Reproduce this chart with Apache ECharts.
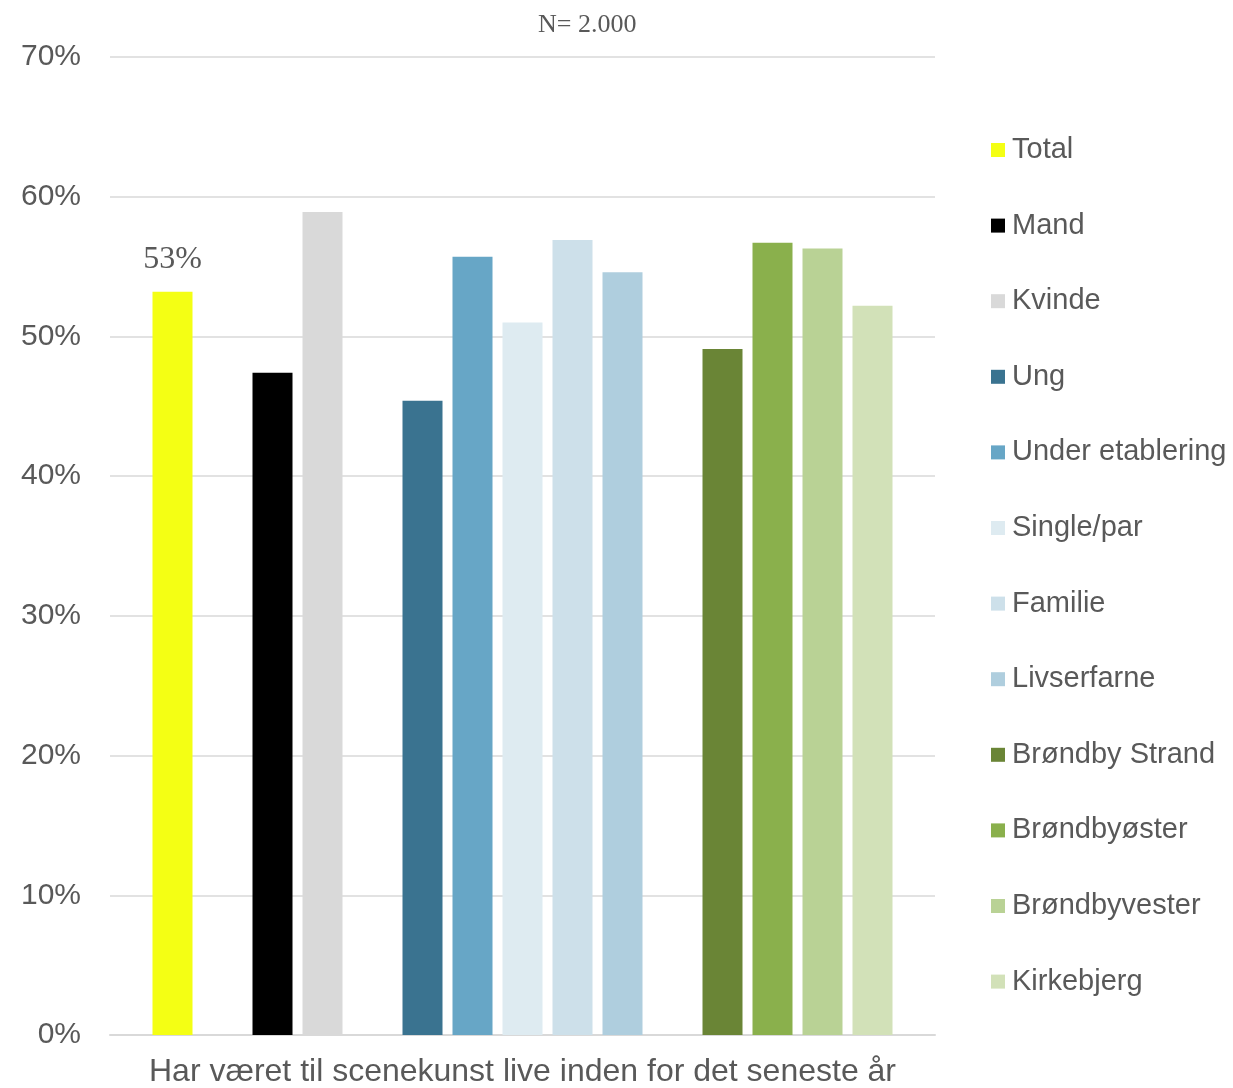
<!DOCTYPE html>
<html lang="da">
<head>
    <meta charset="UTF-8">
    <script type="text/javascript" src="https://cdn.jsdelivr.net/npm/echarts@6.0.0/dist/echarts.min.js"></script>
    <style>
        html, body {
            margin: 0;
            overflow: hidden;
            background: #fff;
        }
        #viewport {
            position: absolute;
            left: 0px;
            top: 0px;
            width: 1233px;
            height: 1088px;
        }
    </style>
</head>
<body>
<div id="viewport"></div>
<script>
    var category = ['Har været til scenekunst live inden for det seneste år'];

    // null entries are empty slots between the groups
    var groups = ['Total', null, 'Mand', 'Kvinde', null,
        'Ung', 'Under etablering', 'Single/par', 'Familie', 'Livserfarne', null,
        'Brøndby Strand', 'Brøndbyøster', 'Brøndbyvester', 'Kirkebjerg'];
    var values = [53.2, null, 47.4, 58.9, null,
        45.4, 55.7, 51.0, 56.9, 54.6, null,
        49.1, 56.7, 56.3, 52.2];
    var colors = ['#f4ff14', null, '#000000', '#d9d9d9', null,
        '#3a7390', '#67a6c6', '#deebf1', '#cde0ea', '#afcede', null,
        '#6a8536', '#8ab04c', '#b9d295', '#d2e1b8'];
    var yTicks = [0, 10, 20, 30, 40, 50, 60, 70];

    var textColor = '#595959';
    var sans = '"Liberation Sans", Arial, sans-serif';
    var serif = '"Liberation Serif", "Times New Roman", serif';

    var myChart = echarts.init(document.getElementById('viewport'));

    var series = groups.map(function (name, i) {
        var s = {
            type: 'bar',
            name: name || ('gap' + i),
            data: [values[i]],
            barWidth: 40,
            barGap: '25%',
            itemStyle: {color: colors[i] || 'transparent'},
            emphasis: {disabled: true}
        };
        if (name === 'Total') {
            s.label = {
                show: true,
                position: 'top',
                distance: 16,
                fontFamily: serif,
                fontSize: 32,
                color: textColor,
                formatter: function (p) {
                    return Math.round(p.value) + '%';
                }
            };
        }
        return s;
    });

    var option = {
        animation: false,
        backgroundColor: '#fff',
        title: {
            text: 'N= 2.000',
            left: 538,
            top: 12,
            padding: 0,
            textStyle: {
                fontFamily: serif,
                fontWeight: 'normal',
                fontSize: 26,
                color: textColor
            }
        },
        legend: {
            orient: 'vertical',
            left: 991,
            top: 135,
            padding: 0,
            icon: 'rect',
            itemWidth: 14,
            itemHeight: 14,
            itemGap: 45.6,
            data: groups.filter(function (g) { return g; }),
            textStyle: {
                fontFamily: sans,
                fontSize: 29,
                lineHeight: 30,
                color: textColor,
                padding: [0, 0, 0, 2]
            }
        },
        grid: {
            left: 110,
            right: 298,
            top: 57,
            bottom: 51
        },
        xAxis: {
            type: 'category',
            data: category,
            axisTick: {show: false},
            axisLine: {lineStyle: {color: '#d9d9d9', width: 2}},
            axisLabel: {
                margin: 21,
                fontFamily: sans,
                fontSize: 32,
                color: textColor
            }
        },
        yAxis: {
            type: 'value',
            min: yTicks[0],
            max: yTicks[yTicks.length - 1],
            interval: 10,
            axisLine: {show: false},
            axisTick: {show: false},
            splitLine: {lineStyle: {color: '#d9d9d9', width: 1.5}},
            axisLabel: {
                margin: 29,
                fontFamily: sans,
                fontSize: 30,
                color: textColor,
                formatter: '{value}%'
            }
        },
        series: series
    };

    myChart.setOption(option);
</script>
</body>
</html>
